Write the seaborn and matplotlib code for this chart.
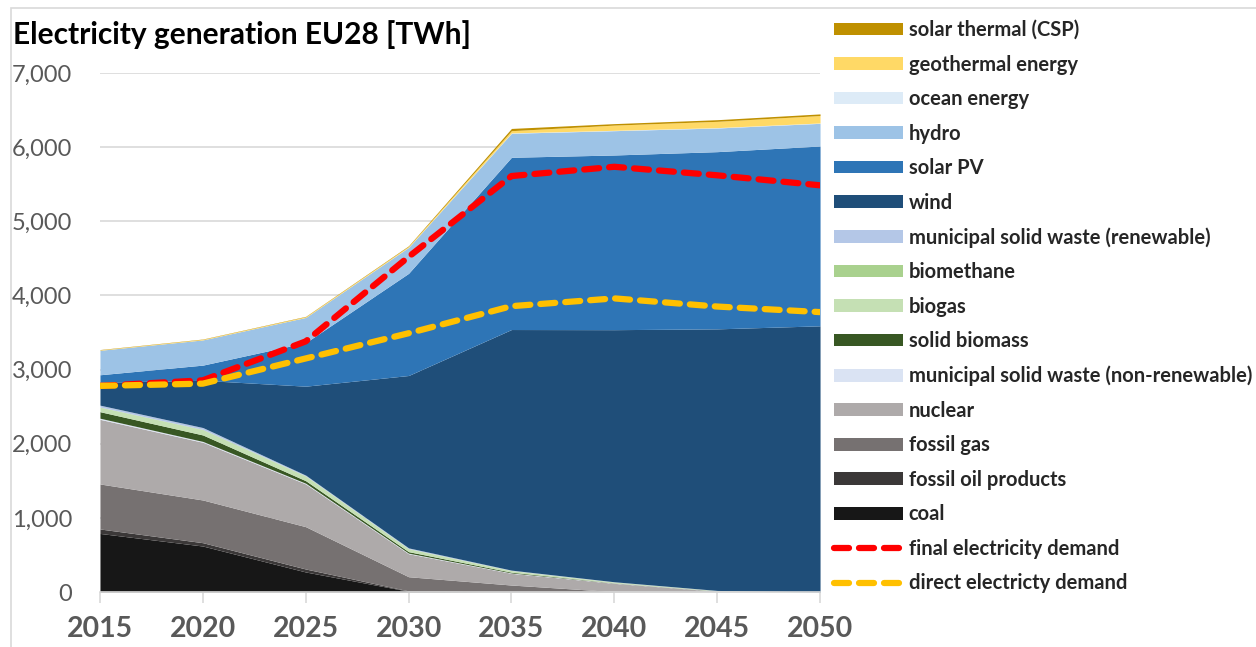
import matplotlib
matplotlib.use("Agg")
import matplotlib.pyplot as plt
from matplotlib.lines import Line2D
from matplotlib.patches import Rectangle
from matplotlib.ticker import FuncFormatter, MultipleLocator
import pandas as pd
import seaborn as sns

# ── Data (TWh) ───────────────────────────────────────────────────────────────
years = [2015, 2020, 2025, 2030, 2035, 2040, 2045, 2050]

coal       = [790, 620, 270, 10, 0, 0, 0, 0]
oil        = [60, 45, 40, 5, 0, 0, 0, 0]
gas        = [607, 576, 571, 191, 94, 5, 0, 0]
nuclear    = [872, 778, 576, 310, 158, 112, 10, 0]
msw_nonren = [15, 12, 10, 8, 5, 3, 2, 0]
biomass    = [88, 87, 34, 20, 10, 3, 2, 0]
biogas     = [60, 70, 60, 36, 20, 10, 5, 0]
biomethane = [3, 5, 5, 5, 3, 2, 0, 0]
msw_ren    = [25, 25, 10, 10, 5, 3, 2, 0]
wind       = [310, 637, 1200, 2325, 3245, 3400, 3528, 3590]
solar_pv   = [100, 205, 587, 1378, 2323, 2356, 2390, 2425]
hydro      = [330, 340, 340, 350, 324, 328, 319, 306]
ocean      = [0, 0, 0, 2, 5, 5, 5, 5]
geothermal = [6, 8, 10, 12, 30, 70, 85, 100]
csp        = [4, 4, 5, 8, 30, 20, 22, 22]

final_demand  = [2780, 2855, 3380, 4520, 5610, 5735, 5620, 5485]
direct_demand = [2780, 2810, 3150, 3490, 3855, 3960, 3850, 3775]

layers = [
    ("coal", coal, "#171717"),
    ("fossil oil products", oil, "#3B3838"),
    ("fossil gas", gas, "#767171"),
    ("nuclear", nuclear, "#AEAAAA"),
    ("municipal solid waste (non-renewable)", msw_nonren, "#DAE3F3"),
    ("solid biomass", biomass, "#385723"),
    ("biogas", biogas, "#C5E0B4"),
    ("biomethane", biomethane, "#A9D18E"),
    ("municipal solid waste (renewable)", msw_ren, "#B4C7E7"),
    ("wind", wind, "#1F4E79"),
    ("solar PV", solar_pv, "#2E75B6"),
    ("hydro", hydro, "#9DC3E6"),
    ("ocean energy", ocean, "#DDEBF7"),
    ("geothermal energy", geothermal, "#FFD966"),
    ("solar thermal (CSP)", csp, "#BF9000"),
]

demand = pd.DataFrame({
    "year": years * 2,
    "TWh": final_demand + direct_demand,
    "series": ["final electricity demand"] * len(years)
              + ["direct electricty demand"] * len(years),
})

DASH = (0, (2.4, 1.6))

# ── Style ────────────────────────────────────────────────────────────────────
sns.set_theme(style="white")
plt.rcParams["font.family"] = ["Lato", "DejaVu Sans"]

fig = plt.figure(figsize=(12.56, 6.47), dpi=100)

# light chart frame like the spreadsheet export
fig.patches.append(Rectangle((11 / 1256, -0.05), 1.1, 1 - 8 / 647 + 0.05,
                             transform=fig.transFigure, fill=False,
                             edgecolor="#D9D9D9", linewidth=1.2))

ax = fig.add_axes([0.0796, 0.085, 0.5733, 0.8022])

polys = ax.stackplot(
    years,
    [vals for _, vals, _ in layers],
    colors=[c for _, _, c in layers],
    labels=[n for n, _, _ in layers],
    linewidth=0,
)

sns.lineplot(
    data=demand, x="year", y="TWh", hue="series",
    palette={"final electricity demand": "#FF0000",
             "direct electricty demand": "#FFC000"},
    linewidth=4.5, dashes=False, legend=False, ax=ax,
)
for line in ax.get_lines():
    line.set_linestyle(DASH)
    line.set_dash_capstyle("round")

# ── Axes ─────────────────────────────────────────────────────────────────────
ax.set_xlim(2015, 2050)
ax.set_ylim(0, 7000)
ax.yaxis.set_major_locator(MultipleLocator(1000))
ax.yaxis.set_major_formatter(FuncFormatter(lambda v, _: f"{v:,.0f}"))
ax.set_xticks(years)
ax.grid(axis="y", color="#D9D9D9", linewidth=1.2)
ax.set_axisbelow(True)
for s in ["top", "right", "left"]:
    ax.spines[s].set_visible(False)
ax.spines["bottom"].set_color("#D9D9D9")
ax.spines["bottom"].set_linewidth(1.2)
ax.tick_params(axis="x", bottom=True, length=8, width=1.2, color="#D9D9D9",
               labelsize=20.5, labelcolor="#595959", pad=9)
ax.tick_params(axis="y", left=False, length=0, labelsize=17,
               labelcolor="#595959", pad=20)
for lab in ax.get_xticklabels():
    lab.set_fontweight("bold")
ax.set_xlabel("")
ax.set_ylabel("")

fig.text(13 / 1256, 1 - 44 / 647, "Electricity generation EU28 [TWh]",
         fontsize=21.5, fontweight="bold", color="black")

# ── Legend (top layer first) ─────────────────────────────────────────────────
handles = list(reversed(polys))
labels = [n for n, _, _ in reversed(layers)]
handles += [
    Line2D([0], [0], color="#FF0000", linewidth=4.5, linestyle=DASH,
           dash_capstyle="round"),
    Line2D([0], [0], color="#FFC000", linewidth=4.5, linestyle=DASH,
           dash_capstyle="round"),
]
labels += ["final electricity demand", "direct electricty demand"]

fig.legend(
    handles, labels,
    loc="upper left", bbox_to_anchor=(0.653, 1 - 6 / 647),
    frameon=False, prop={"weight": "bold", "size": 14.5},
    handlelength=3.4, handleheight=0.6, handletextpad=0.3,
    labelspacing=0.72, borderaxespad=0.3,
)

fig.savefig("out.png", dpi=100)
